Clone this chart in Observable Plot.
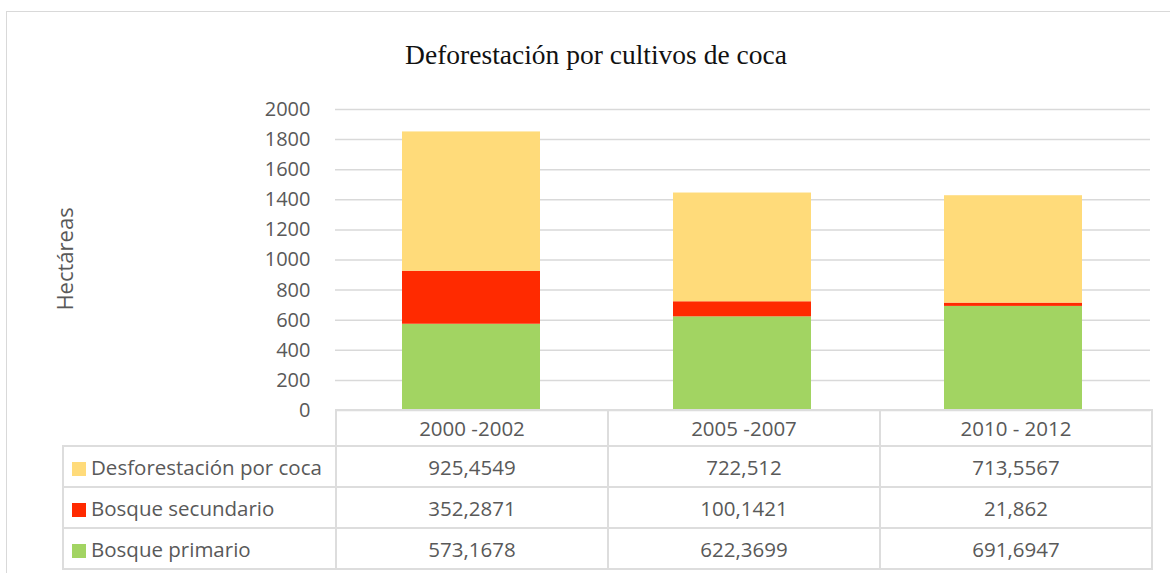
<!DOCTYPE html>
<html>
<head>
<meta charset="utf-8">
<script src="https://cdn.jsdelivr.net/npm/d3@7"></script>
<script src="https://cdn.jsdelivr.net/npm/@observablehq/plot@0.6"></script>
<style>
  html, body { margin: 0; padding: 0; background: #fff; }
  #wrap { position: relative; width: 1170px; height: 573px; overflow: hidden; background: #fff; font-family: "Open Sans", sans-serif; }
  #frame { position: absolute; left: 6px; top: 11px; width: 1200px; height: 620px; border: 1.5px solid #d9d9d9; box-sizing: border-box; }
  #title { position: absolute; left: 0; width: 1192px; top: 41px; text-align: center; font-family: "Liberation Serif", "Times New Roman", serif; font-size: 27.5px; font-weight: normal; line-height: 27.5px; color: #111; white-space: nowrap; }
  #ylabel { position: absolute; left: 64px; top: 259px; transform: translate(-50%, -50%) rotate(-90deg); font-size: 22px; color: #595959; white-space: nowrap; }
  #chart { position: absolute; left: 0; top: 0; }
  #tbl { position: absolute; left: 62px; top: 409px; border-collapse: collapse; table-layout: fixed; font-size: 20.5px; color: #595959; }
  #tbl td { border: 2px solid #dddddd; text-align: center; padding: 0; white-space: nowrap; overflow: hidden; }
  #tbl tr.head td { height: 34px; }
  #tbl tr.row td { height: 39px; }
  #tbl td.corner { border-top: none; border-left: none; }
  #tbl td.leg { text-align: left; padding-left: 8px; }
  .sw { display: inline-block; width: 14px; height: 14px; margin-right: 5px; vertical-align: -1px; }
</style>
</head>
<body>
<div id="wrap">
  <div id="frame"></div>
  <div id="title">Deforestación por cultivos de coca</div>
  <div id="ylabel">Hectáreas</div>
  <div id="chart"></div>
  <table id="tbl"></table>
</div>
<script>
const periods = ["2000 -2002", "2005 -2007", "2010 - 2012"];
const seriesNames = ["Desforestación por coca", "Bosque secundario", "Bosque primario"];
const coca = [925.4549, 722.512, 713.5567];
const secundario = [352.2871, 100.1421, 21.862];
const primario = [573.1678, 622.3699, 691.6947];
const seriesColors = ["#FFDB7A", "#FF2A00", "#A2D462"];
const yTicks = [0, 200, 400, 600, 800, 1000, 1200, 1400, 1600, 1800, 2000];

const valuesBySeries = [coca, secundario, primario];

// stacking order: primario at bottom, then secundario, then coca on top
const stackOrder = [2, 1, 0];
const data = [];
for (const si of stackOrder) {
  periods.forEach((p, i) => data.push({period: p, series: seriesNames[si], value: valuesBySeries[si][i]}));
}

const chart = Plot.plot({
  width: 1170,
  height: 411,
  marginTop: 109,
  marginBottom: 1,
  marginLeft: 335,
  marginRight: 20,
  style: {fontFamily: "Open Sans", background: "transparent", overflow: "visible"},
  x: {domain: periods, paddingInner: 0.49, paddingOuter: 0.245, axis: null},
  y: {domain: [0, 2000]},
  color: {domain: seriesNames, range: seriesColors},
  marks: [
    Plot.gridY(yTicks, {stroke: "#d9d9d9", strokeOpacity: 1, strokeWidth: 1.5}),
    Plot.axisY(yTicks, {tickSize: 0, tickPadding: 25, fontSize: 20, fill: "#595959", label: null, tickFormat: d => String(d)}),
    Plot.barY(data, {x: "period", y: "value", fill: "series"})
  ]
});
document.getElementById("chart").appendChild(chart);

// data table
const fmt = v => String(v).replace(".", ",");
const tbl = document.getElementById("tbl");
const colg = document.createElement("colgroup");
[273, 272, 272, 272].forEach(w => { const c = document.createElement("col"); c.style.width = w + "px"; colg.appendChild(c); });
tbl.appendChild(colg);
const head = document.createElement("tr");
head.className = "head";
const corner = document.createElement("td");
corner.className = "corner";
head.appendChild(corner);
periods.forEach(p => { const td = document.createElement("td"); td.textContent = p; head.appendChild(td); });
tbl.appendChild(head);
seriesNames.forEach((s, si) => {
  const tr = document.createElement("tr");
  tr.className = "row";
  const lg = document.createElement("td");
  lg.className = "leg";
  const sw = document.createElement("span");
  sw.className = "sw";
  sw.style.background = seriesColors[si];
  lg.appendChild(sw);
  lg.appendChild(document.createTextNode(s));
  tr.appendChild(lg);
  valuesBySeries[si].forEach(v => { const td = document.createElement("td"); td.textContent = fmt(v); tr.appendChild(td); });
  tbl.appendChild(tr);
});
</script>
</body>
</html>
